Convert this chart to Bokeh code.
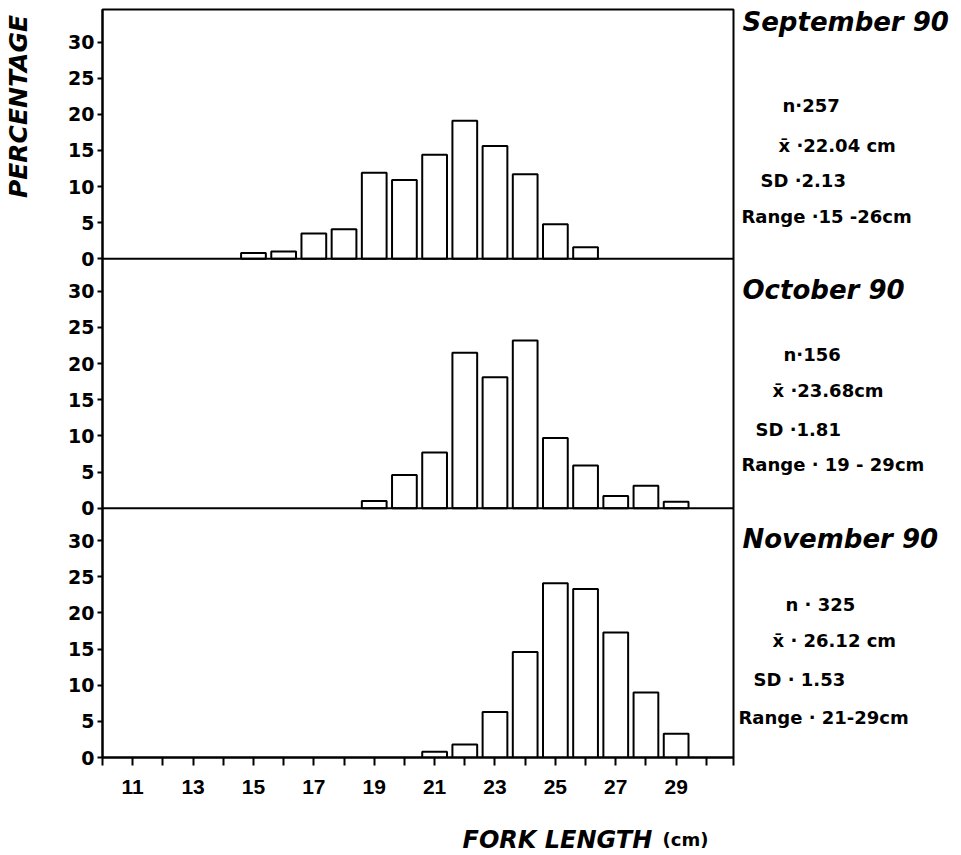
from bokeh.plotting import figure
from bokeh.layouts import column, row
from bokeh.models import Label, FixedTicker, Range1d, Span
from bokeh.embed import file_html
from bokeh.resources import INLINE

# ---------------- data ----------------
months = ["September 90", "October 90", "November 90"]

sep_lengths = [15, 16, 17, 18, 19, 20, 21, 22, 23, 24, 25, 26]
sep_pct = [0.8, 1.0, 3.5, 4.1, 11.9, 10.9, 14.4, 19.1, 15.6, 11.7, 4.8, 1.6]

oct_lengths = [19, 20, 21, 22, 23, 24, 25, 26, 27, 28, 29]
oct_pct = [1.0, 4.6, 7.7, 21.5, 18.1, 23.2, 9.7, 5.9, 1.7, 3.1, 0.9]

nov_lengths = [21, 22, 23, 24, 25, 26, 27, 28, 29]
nov_pct = [0.8, 1.8, 6.3, 14.6, 24.1, 23.3, 17.3, 9.0, 3.3]

n_values = ["257", "156", "325"]
mean_values = ["22.04", "23.68", "26.12"]
sd_values = ["2.13", "1.81", "1.53"]
range_values = [("15", "26"), ("19", "29"), ("21", "29")]

y_ticks = [0, 5, 10, 15, 20, 25, 30]
x_ticks = list(range(10, 31))
x_labelled = [11, 13, 15, 17, 19, 21, 23, 25, 27, 29]

stats_text = [
    ["n\u00b7" + n_values[0], "x\u0304 \u00b7" + mean_values[0] + " cm", "SD \u00b7" + sd_values[0],
     "Range \u00b7" + range_values[0][0] + " -" + range_values[0][1] + "cm"],
    ["n\u00b7" + n_values[1], "x\u0304 \u00b7" + mean_values[1] + "cm", "SD \u00b7" + sd_values[1],
     "Range \u00b7 " + range_values[1][0] + " - " + range_values[1][1] + "cm"],
    ["n \u00b7 " + n_values[2], "x\u0304 \u00b7 " + mean_values[2] + " cm", "SD \u00b7 " + sd_values[2],
     "Range \u00b7 " + range_values[2][0] + "-" + range_values[2][1] + "cm"],
]

series = [(sep_lengths, sep_pct), (oct_lengths, oct_pct), (nov_lengths, nov_pct)]

# ---------------- layout constants (pixels) ----------------
TOTAL_W = 958
LEFT_W = 40                 # strip holding "PERCENTAGE"
MAIN_BL = 62                # main figure left border -> frame starts at x=102
FRAME_W = 631
MAIN_BR = 3
MAIN_W = MAIN_BL + FRAME_W + MAIN_BR
RIGHT_W = TOTAL_W - LEFT_W - MAIN_W
TOP_H = 800
FRAME_TOP = 9
FRAME_BOTTOM = 757
BOTTOM_H = 53

X0, X1 = 10, 30.9
PANEL_SPAN = 34.5
panel_base = [2 * PANEL_SPAN, PANEL_SPAN, 0.0]   # top, middle, bottom panel

BOLD = "DejaVu Sans"


def strip(width, height, xr, yr, top=0, bottom=0):
    f = figure(width=width, height=height, x_range=xr, y_range=yr,
               output_backend="svg", toolbar_location=None,
               x_axis_location=None, y_axis_location=None,
               min_border_left=0, min_border_right=0,
               min_border_top=top, min_border_bottom=bottom,
               background_fill_color="white", border_fill_color="white")
    f.grid.visible = False
    f.outline_line_color = None
    return f


# ---------------- main figure (three stacked panels) ----------------
p = figure(
    width=MAIN_W, height=TOP_H,
    x_range=Range1d(X0, X1), y_range=Range1d(0, 3 * PANEL_SPAN),
    output_backend="svg", toolbar_location=None,
    min_border_left=MAIN_BL, min_border_right=MAIN_BR,
    min_border_top=FRAME_TOP, min_border_bottom=TOP_H - FRAME_BOTTOM,
    background_fill_color="white", border_fill_color="white",
)
p.xgrid.visible = False
p.ygrid.visible = False
p.outline_line_color = "black"
p.outline_line_width = 2

all_y_ticks = []
y_over = {}
for b in panel_base:
    for t in y_ticks:
        all_y_ticks.append(b + t)
        y_over[b + t] = str(t)

ya = p.yaxis[0]
ya.ticker = FixedTicker(ticks=all_y_ticks, minor_ticks=[])
ya.major_label_overrides = y_over
ya.axis_line_width = 2
ya.major_tick_line_width = 2
ya.major_tick_out = 5
ya.major_tick_in = 0
ya.major_label_standoff = 3
ya.major_label_text_font = BOLD
ya.major_label_text_font_style = "bold"
ya.major_label_text_font_size = "19px"
ya.major_label_text_color = "black"

xa = p.xaxis[0]
xa.ticker = FixedTicker(ticks=x_ticks + [X1], minor_ticks=[])
over = {t: (str(t) if t in x_labelled else "") for t in x_ticks}
over[X1] = ""
xa.major_label_overrides = over
xa.axis_line_width = 2
xa.major_tick_line_width = 2
xa.major_tick_out = 8
xa.major_tick_in = 0
xa.major_label_standoff = 14
xa.major_label_text_font = "Liberation Sans"
xa.major_label_text_font_style = "bold"
xa.major_label_text_font_size = "21px"
xa.major_label_text_color = "black"

for b in panel_base[:2]:
    p.add_layout(Span(location=b, dimension="width", line_color="black", line_width=2))

for (lengths, pct), b in zip(series, panel_base):
    p.vbar(x=lengths, top=[b + v for v in pct], bottom=b, width=0.82,
           fill_color="white", line_color="black", line_width=2)

# ---------------- left strip: PERCENTAGE (data units = page pixels) ----------------
left = strip(LEFT_W, TOP_H, Range1d(0, LEFT_W), Range1d(FRAME_BOTTOM, FRAME_TOP),
             top=FRAME_TOP, bottom=TOP_H - FRAME_BOTTOM)
left.add_layout(Label(x=18, y=106, text="PERCENTAGE", angle=1.5708,
                      text_font=BOLD, text_font_style="bold italic", text_font_size="25px",
                      text_align="center", text_baseline="middle", text_color="black"))

# ---------------- right strip: titles and statistics ----------------
x_off = LEFT_W + MAIN_W
right = strip(RIGHT_W, TOP_H, Range1d(x_off, TOTAL_W), Range1d(FRAME_BOTTOM, FRAME_TOP),
              top=FRAME_TOP, bottom=TOP_H - FRAME_BOTTOM)

title_pos = [(742, 21), (742, 289), (742, 538)]
stats_pos = [
    [(782, 105), (778, 145), (760, 180), (741, 216)],
    [(783, 354), (772, 390), (755, 429), (741, 464)],
    [(785, 604), (772, 640), (753, 679), (738, 717)],
]
for i in range(3):
    right.add_layout(Label(x=title_pos[i][0], y=title_pos[i][1], text=months[i], text_font=BOLD,
                           text_font_style="bold italic", text_font_size="26px",
                           text_align="left", text_baseline="middle", text_color="black"))
    for (sx, sy), s in zip(stats_pos[i], stats_text[i]):
        right.add_layout(Label(x=sx, y=sy, text=s, text_font=BOLD, text_font_style="bold",
                               text_font_size="18px", text_align="left", text_baseline="middle",
                               text_color="black"))

# ---------------- bottom strip: axis title ----------------
bottom = strip(TOTAL_W, BOTTOM_H, Range1d(0, TOTAL_W), Range1d(TOP_H + BOTTOM_H, TOP_H))
bottom.add_layout(Label(x=462, y=839, text="FORK LENGTH", text_font=BOLD,
                        text_font_style="bold italic", text_font_size="24px",
                        text_align="left", text_baseline="middle", text_color="black"))
bottom.add_layout(Label(x=662, y=839, text="(cm)", text_font=BOLD, text_font_style="bold",
                        text_font_size="18px", text_align="left", text_baseline="middle",
                        text_color="black"))

layout = column(row(left, p, right, spacing=0), bottom, spacing=0)
open("out.html", "w").write(file_html(layout, INLINE))
